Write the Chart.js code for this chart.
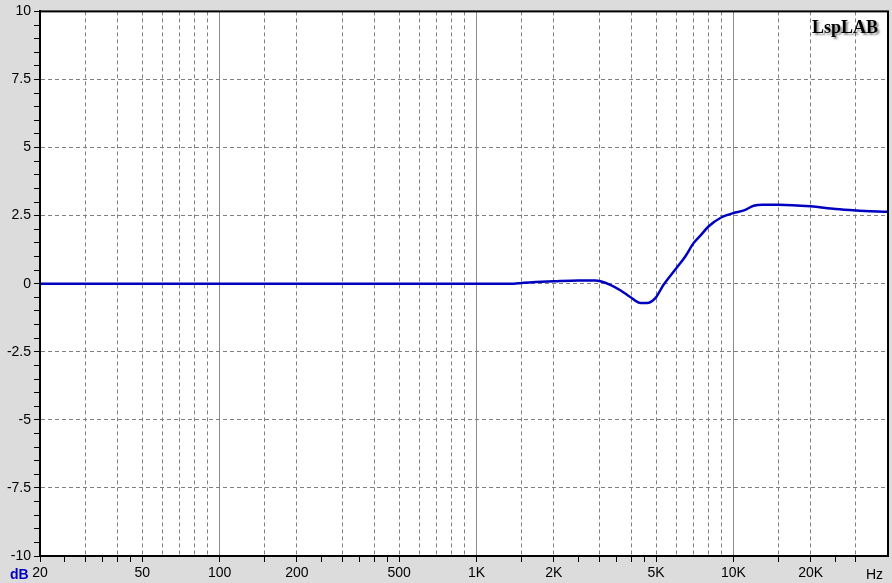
<!DOCTYPE html>
<html lang="en">
<head>
  <meta charset="UTF-8">
  <title>LspLAB response</title>
  <script src="https://cdn.jsdelivr.net/npm/chart.js"></script>
  <style>
  body {
    margin: 0;
    background: #dcdcdc;
  }

  #chartContainer {
    width: 892px;
    height: 583px;
  }
</style>
</head>
<body>
  <div id="chartContainer">
    <canvas id="myChart"></canvas>
  </div>

  <script>
    // response curve
    const freqs = [20, 1000, 1400, 1500, 1700, 2000, 2500, 2900, 3040, 3320, 3630, 3970, 4350, 4610, 4970, 5350, 5860, 6000, 6500, 7000, 7500, 8000, 9000, 10000, 11000, 12000, 13000, 15000, 20000, 25000, 30000, 40000];
    const levels = [0, 0, 0, 0.03, 0.06, 0.09, 0.12, 0.12, 0.09, -0.04, -0.24, -0.49, -0.71, -0.71, -0.53, -0.04, 0.45, 0.57, 1.0, 1.49, 1.8, 2.1, 2.44, 2.59, 2.69, 2.86, 2.9, 2.9, 2.84, 2.74, 2.69, 2.64];

    // axis ticks
    const tickMarks = [20, 25, 30, 35, 40, 45, 50, 100, 150, 200, 250, 300, 350, 400, 450, 500, 1000, 1500, 2000, 2500, 3000, 3500, 4000, 4500, 5000, 10000, 15000, 20000, 25000, 30000];
    const minorGrid = [30, 40, 50, 60, 70, 80, 90, 150, 200, 300, 400, 500, 600, 700, 800, 900, 1500, 2000, 3000, 4000, 5000, 6000, 7000, 8000, 9000, 15000, 20000, 30000];
    const decadeGrid = [100, 1000, 10000];
    const xLabels = {20: '20', 50: '50', 100: '100', 200: '200', 500: '500', 1000: '1K', 2000: '2K', 5000: '5K', 10000: '10K', 20000: '20K'};
    const yMajorStep = 2.5;

    const allXTicks = Array.from(new Set([...tickMarks, ...minorGrid, ...decadeGrid])).sort((a, b) => a - b);

    const frame = {
      id: 'frame',
      beforeDraw(chart) {
        const {ctx, chartArea: a} = chart;
        ctx.save();
        ctx.fillStyle = '#ffffff';
        ctx.fillRect(a.left, a.top, a.right - a.left, a.bottom - a.top);
        ctx.restore();
      },
      afterDraw(chart) {
        const {ctx, chartArea: a} = chart;
        ctx.save();
        ctx.strokeStyle = '#000000';
        ctx.lineWidth = 2;
        ctx.strokeRect(a.left, a.top, a.right - a.left, a.bottom - a.top);

        ctx.font = 'bold 14px Arial';
        ctx.fillStyle = '#0000c0';
        ctx.textBaseline = 'alphabetic';
        ctx.textAlign = 'left';
        ctx.fillText('dB', 10, 579);

        ctx.font = '14px Arial';
        ctx.fillStyle = '#000000';
        ctx.textAlign = 'right';
        ctx.fillText('Hz', 883, 579);

        ctx.font = 'bold 18px "Liberation Serif", "Times New Roman", serif';
        ctx.shadowColor = 'rgba(0,0,0,0.45)';
        ctx.shadowOffsetX = 2;
        ctx.shadowOffsetY = 2;
        ctx.shadowBlur = 2;
        ctx.fillStyle = '#000000';
        ctx.fillText('LspLAB', 878, 33);
        ctx.restore();
      }
    };

    const ctx = document.getElementById('myChart').getContext('2d');

    new Chart(ctx, {
      type: 'line',
      data: {
        datasets: [{
          data: freqs.map((f, i) => ({x: f, y: levels[i]})),
          borderColor: '#0000c0',
          borderWidth: 2.5,
          pointRadius: 0,
          fill: false,
          cubicInterpolationMode: 'monotone'
        }]
      },
      options: {
        responsive: true,
        maintainAspectRatio: false,
        animation: false,
        layout: {
          padding: {top: 11, right: 4, left: 0, bottom: 0}
        },
        plugins: {
          legend: {display: false},
          tooltip: {enabled: false}
        },
        scales: {
          x: {
            type: 'logarithmic',
            min: 20,
            max: 40000,
            weight: 1,
            afterBuildTicks: (scale) => {
              scale.ticks = allXTicks.map(v => ({value: v}));
            },
            afterFit: (scale) => {
              scale.height = 27;
            },
            ticks: {
              autoSkip: false,
              maxRotation: 0,
              padding: 3,
              color: '#000000',
              font: {family: 'Arial', size: 14},
              callback: (value) => xLabels[value] || ''
            },
            grid: {
              color: (c) => minorGrid.includes(c.tick.value) ? '#808080' : 'rgba(0,0,0,0)',
              tickColor: (c) => tickMarks.includes(c.tick.value) ? '#000000' : 'rgba(0,0,0,0)',
              tickLength: 6,
              lineWidth: 1
            },
            border: {color: '#000000', width: 2, dash: [4, 3]}
          },
          xd: {
            type: 'logarithmic',
            axis: 'x',
            position: 'bottom',
            min: 20,
            max: 40000,
            weight: 0,
            afterBuildTicks: (scale) => {
              scale.ticks = decadeGrid.map(v => ({value: v}));
            },
            afterFit: (scale) => {
              scale.height = 0;
            },
            ticks: {display: false},
            grid: {color: '#8c8c8c', drawTicks: false, lineWidth: 1},
            border: {display: false}
          },
          y: {
            min: -10,
            max: 10,
            afterFit: (scale) => {
              scale.width = 40;
            },
            ticks: {
              stepSize: 0.5,
              autoSkip: false,
              padding: 3,
              color: '#000000',
              font: {family: 'Arial', size: 14},
              callback: (value) => (Math.abs(value % yMajorStep) < 1e-9 ? String(value) : '')
            },
            grid: {
              color: (c) => (Math.abs(c.tick.value % yMajorStep) < 1e-9 && Math.abs(c.tick.value) < 10) ? '#808080' : 'rgba(0,0,0,0)',
              tickColor: '#000000',
              tickLength: 6,
              lineWidth: 1
            },
            border: {color: '#000000', width: 2, dash: [4, 3]}
          }
        }
      },
      plugins: [frame]
    });
  </script>
</body>
</html>
